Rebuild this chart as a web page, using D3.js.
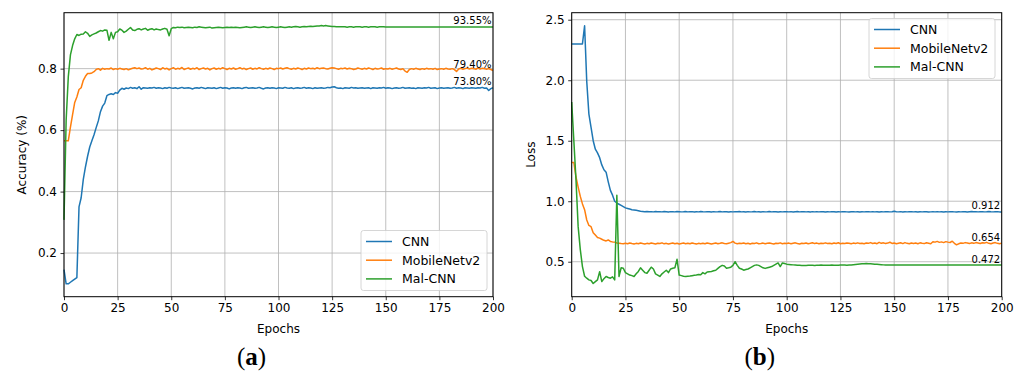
<!DOCTYPE html>
<html>
<head>
<meta charset="utf-8">
<script src="https://cdn.jsdelivr.net/npm/d3@7"></script>
<style>
  body { margin: 0; background: #fff; }
  svg text { font-family: "DejaVu Sans", sans-serif; fill: #000; }
</style>
</head>
<body>
<svg id="chart" width="1024" height="374"></svg>
<script>
// ---- data, one value per epoch 0..200 ----
var seriesNames = ["CNN", "MobileNetv2", "Mal-CNN"];
var seriesColors = ["#1f77b4", "#ff7f0e", "#2ca02c"];
var epochTicks = [0, 25, 50, 75, 100, 125, 150, 175, 200];
var accTicks = [0.2, 0.4, 0.6, 0.8];
var lossTicks = [0.5, 1.0, 1.5, 2.0, 2.5];
var accFinalLabels = ["73.80%", "79.40%", "93.55%"];
var lossFinalLabels = ["0.912", "0.654", "0.472"];

var cnnAcc = [
  0.146,0.100,0.100,0.105,0.110,0.115,0.120,0.350,0.380,0.440,
  0.480,0.515,0.545,0.565,0.585,0.608,0.630,0.660,0.678,0.688,
  0.712,0.716,0.718,0.716,0.722,0.720,0.730,0.736,0.733,0.737,
  0.735,0.739,0.736,0.738,0.735,0.741,0.733,0.738,0.737,0.736,
  0.738,0.737,0.739,0.736,0.738,0.737,0.735,0.738,0.736,0.739,
  0.737,0.736,0.738,0.735,0.737,0.739,0.736,0.737,0.738,0.736,
  0.734,0.737,0.738,0.736,0.739,0.737,0.735,0.738,0.737,0.736,
  0.738,0.735,0.737,0.739,0.736,0.738,0.737,0.734,0.737,0.738,
  0.736,0.738,0.737,0.735,0.738,0.739,0.736,0.737,0.738,0.736,
  0.737,0.739,0.736,0.734,0.737,0.738,0.736,0.738,0.737,0.735,
  0.738,0.737,0.736,0.739,0.737,0.736,0.738,0.735,0.737,0.738,
  0.736,0.737,0.739,0.736,0.738,0.737,0.735,0.738,0.736,0.737,
  0.738,0.736,0.737,0.739,0.738,0.740,0.741,0.738,0.736,0.737,
  0.735,0.738,0.737,0.736,0.739,0.737,0.738,0.736,0.737,0.738,
  0.736,0.737,0.738,0.735,0.738,0.737,0.736,0.738,0.737,0.739,
  0.736,0.738,0.737,0.735,0.737,0.738,0.736,0.737,0.739,0.736,
  0.737,0.738,0.736,0.737,0.735,0.738,0.737,0.736,0.738,0.737,
  0.739,0.736,0.737,0.738,0.735,0.737,0.738,0.736,0.737,0.738,
  0.736,0.737,0.739,0.736,0.738,0.737,0.735,0.738,0.737,0.736,
  0.738,0.737,0.736,0.738,0.737,0.739,0.736,0.737,0.729,0.735,
  0.738
];
var mobileAcc = [
  0.565,0.565,0.565,0.610,0.650,0.690,0.708,0.732,0.738,0.762,
  0.775,0.784,0.784,0.786,0.790,0.797,0.800,0.795,0.801,0.798,
  0.800,0.799,0.802,0.797,0.800,0.798,0.801,0.799,0.797,0.800,
  0.796,0.799,0.801,0.803,0.800,0.802,0.799,0.800,0.803,0.798,
  0.801,0.796,0.799,0.802,0.800,0.797,0.803,0.799,0.801,0.796,
  0.800,0.803,0.798,0.801,0.799,0.804,0.797,0.800,0.802,0.798,
  0.801,0.799,0.803,0.797,0.800,0.802,0.799,0.801,0.796,0.800,
  0.802,0.798,0.801,0.799,0.803,0.800,0.797,0.801,0.799,0.802,
  0.798,0.800,0.803,0.799,0.801,0.797,0.800,0.802,0.798,0.801,
  0.799,0.803,0.800,0.798,0.801,0.799,0.802,0.800,0.797,0.801,
  0.800,0.802,0.799,0.801,0.803,0.800,0.798,0.801,0.799,0.802,
  0.800,0.797,0.801,0.799,0.802,0.800,0.801,0.799,0.803,0.800,
  0.801,0.802,0.800,0.799,0.801,0.803,0.802,0.800,0.798,0.801,
  0.800,0.802,0.799,0.801,0.800,0.797,0.799,0.802,0.800,0.798,
  0.801,0.799,0.802,0.800,0.797,0.801,0.799,0.800,0.802,0.798,
  0.800,0.799,0.801,0.798,0.800,0.802,0.799,0.797,0.800,0.792,
  0.788,0.797,0.800,0.798,0.801,0.799,0.797,0.800,0.798,0.801,
  0.799,0.800,0.798,0.801,0.797,0.799,0.800,0.798,0.801,0.799,
  0.798,0.800,0.797,0.791,0.799,0.801,0.798,0.800,0.802,0.799,
  0.801,0.800,0.798,0.802,0.799,0.801,0.800,0.798,0.800,0.797,
  0.794
];
var malAcc = [
  0.308,0.632,0.773,0.845,0.875,0.897,0.911,0.908,0.912,0.913,
  0.920,0.915,0.905,0.910,0.913,0.916,0.920,0.924,0.922,0.926,
  0.925,0.892,0.918,0.897,0.918,0.920,0.929,0.925,0.918,0.922,
  0.928,0.934,0.926,0.924,0.928,0.930,0.926,0.929,0.931,0.925,
  0.928,0.930,0.926,0.929,0.927,0.926,0.929,0.931,0.928,0.907,
  0.930,0.934,0.933,0.935,0.934,0.935,0.933,0.934,0.935,0.934,
  0.933,0.935,0.934,0.936,0.935,0.934,0.933,0.934,0.935,0.932,
  0.933,0.934,0.935,0.934,0.933,0.934,0.935,0.934,0.935,0.934,
  0.935,0.934,0.933,0.934,0.935,0.936,0.935,0.934,0.935,0.936,
  0.935,0.934,0.935,0.936,0.935,0.934,0.935,0.936,0.935,0.934,
  0.935,0.936,0.935,0.934,0.935,0.936,0.935,0.936,0.937,0.936,
  0.935,0.936,0.937,0.936,0.937,0.938,0.937,0.938,0.939,0.939,
  0.940,0.939,0.940,0.939,0.938,0.937,0.937,0.936,0.936,0.936,
  0.936,0.936,0.935,0.936,0.936,0.935,0.936,0.936,0.936,0.935,
  0.936,0.936,0.935,0.936,0.936,0.936,0.935,0.936,0.936,0.936,
  0.9355,0.9355,0.9355,0.9355,0.9355,0.9355,0.9355,0.9355,0.9355,0.9355,
  0.9355,0.9355,0.9355,0.9355,0.9355,0.9355,0.9355,0.9355,0.9355,0.9355,
  0.9355,0.9355,0.9355,0.9355,0.9355,0.9355,0.9355,0.9355,0.9355,0.9355,
  0.9355,0.9355,0.9355,0.9355,0.9355,0.9355,0.9355,0.9355,0.9355,0.9355,
  0.9355,0.9355,0.9355,0.9355,0.9355,0.9355,0.9355,0.9355,0.9355,0.9355,
  0.9355
];

var cnnLoss = [
  2.300,2.300,2.300,2.300,2.300,2.300,2.450,1.990,1.720,1.610,
  1.500,1.430,1.400,1.360,1.300,1.260,1.240,1.160,1.090,1.050,
  1.000,0.985,0.975,0.965,0.955,0.945,0.940,0.935,0.930,0.928,
  0.925,0.922,0.918,0.916,0.914,0.915,0.913,0.914,0.912,0.915,
  0.913,0.914,0.912,0.915,0.913,0.911,0.914,0.913,0.912,0.915,
  0.914,0.912,0.913,0.915,0.912,0.913,0.914,0.911,0.913,0.912,
  0.915,0.913,0.912,0.914,0.913,0.911,0.914,0.912,0.913,0.915,
  0.912,0.914,0.913,0.911,0.913,0.912,0.914,0.913,0.915,0.912,
  0.913,0.911,0.914,0.912,0.913,0.915,0.912,0.913,0.911,0.914,
  0.912,0.913,0.915,0.912,0.914,0.913,0.911,0.913,0.912,0.914,
  0.913,0.912,0.914,0.911,0.913,0.915,0.912,0.913,0.914,0.912,
  0.913,0.911,0.914,0.912,0.913,0.912,0.914,0.913,0.911,0.913,
  0.912,0.914,0.913,0.911,0.913,0.912,0.914,0.913,0.912,0.911,
  0.913,0.914,0.912,0.913,0.911,0.913,0.912,0.914,0.913,0.912,
  0.914,0.912,0.913,0.911,0.913,0.912,0.914,0.913,0.912,0.913,
  0.917,0.913,0.912,0.914,0.911,0.913,0.912,0.913,0.914,0.912,
  0.913,0.911,0.913,0.912,0.914,0.913,0.911,0.912,0.913,0.912,
  0.914,0.912,0.913,0.911,0.913,0.912,0.914,0.913,0.912,0.911,
  0.913,0.912,0.914,0.913,0.911,0.913,0.915,0.913,0.914,0.912,
  0.913,0.914,0.912,0.913,0.915,0.913,0.912,0.914,0.913,0.912,
  0.912
];
var mobileLoss = [
  1.320,1.320,1.200,1.116,1.040,0.978,0.930,0.845,0.800,0.790,
  0.740,0.720,0.700,0.695,0.686,0.677,0.672,0.680,0.668,0.664,
  0.662,0.655,0.653,0.650,0.648,0.652,0.648,0.655,0.650,0.646,
  0.652,0.648,0.655,0.650,0.646,0.652,0.649,0.655,0.651,0.647,
  0.653,0.650,0.656,0.648,0.652,0.646,0.651,0.655,0.649,0.653,
  0.647,0.651,0.654,0.649,0.652,0.648,0.655,0.650,0.646,0.652,
  0.649,0.653,0.648,0.655,0.651,0.646,0.650,0.654,0.649,0.652,
  0.656,0.650,0.648,0.653,0.658,0.668,0.654,0.648,0.652,0.650,
  0.655,0.649,0.652,0.647,0.653,0.650,0.656,0.649,0.651,0.654,
  0.648,0.652,0.655,0.650,0.647,0.653,0.651,0.656,0.649,0.652,
  0.650,0.654,0.648,0.652,0.656,0.650,0.647,0.653,0.651,0.655,
  0.649,0.652,0.657,0.650,0.654,0.648,0.653,0.651,0.656,0.650,
  0.653,0.648,0.655,0.651,0.657,0.649,0.653,0.650,0.655,0.652,
  0.648,0.654,0.651,0.656,0.650,0.653,0.649,0.655,0.652,0.658,
  0.651,0.655,0.649,0.660,0.652,0.656,0.650,0.654,0.661,0.651,
  0.655,0.649,0.653,0.657,0.650,0.658,0.652,0.648,0.655,0.651,
  0.654,0.649,0.656,0.652,0.650,0.657,0.653,0.649,0.665,0.662,
  0.668,0.660,0.664,0.658,0.666,0.662,0.659,0.670,0.652,0.640,
  0.648,0.655,0.652,0.658,0.654,0.650,0.656,0.652,0.658,0.655,
  0.651,0.657,0.654,0.660,0.652,0.648,0.655,0.658,0.652,0.648,
  0.654
];
var malLoss = [
  1.820,1.500,1.176,0.790,0.600,0.460,0.380,0.364,0.350,0.345,
  0.320,0.335,0.350,0.418,0.336,0.360,0.378,0.370,0.364,0.375,
  0.350,1.050,0.378,0.450,0.446,0.410,0.400,0.390,0.385,0.378,
  0.400,0.420,0.450,0.430,0.410,0.405,0.430,0.455,0.440,0.400,
  0.390,0.378,0.400,0.415,0.430,0.410,0.440,0.446,0.450,0.520,
  0.390,0.385,0.380,0.378,0.380,0.382,0.385,0.388,0.390,0.395,
  0.392,0.410,0.400,0.415,0.418,0.420,0.425,0.430,0.445,0.460,
  0.470,0.465,0.446,0.450,0.455,0.470,0.500,0.470,0.446,0.440,
  0.430,0.435,0.440,0.450,0.460,0.470,0.474,0.470,0.460,0.450,
  0.445,0.450,0.455,0.460,0.470,0.480,0.490,0.460,0.490,0.485,
  0.480,0.478,0.476,0.474,0.472,0.470,0.470,0.468,0.468,0.469,
  0.470,0.471,0.470,0.469,0.470,0.471,0.472,0.471,0.470,0.470,
  0.471,0.472,0.471,0.470,0.471,0.472,0.473,0.472,0.471,0.472,
  0.473,0.475,0.477,0.479,0.481,0.483,0.484,0.485,0.484,0.483,
  0.482,0.480,0.479,0.478,0.476,0.474,0.472,0.472,0.472,0.472,
  0.472,0.472,0.472,0.472,0.472,0.472,0.472,0.472,0.472,0.472,
  0.472,0.472,0.472,0.472,0.472,0.472,0.472,0.472,0.472,0.472,
  0.472,0.472,0.472,0.472,0.472,0.472,0.472,0.472,0.472,0.472,
  0.472,0.472,0.472,0.472,0.472,0.472,0.472,0.472,0.472,0.472,
  0.472,0.472,0.472,0.472,0.472,0.472,0.472,0.472,0.472,0.472,
  0.472
];

var svg = d3.select("#chart");

function drawPanel(cfg) {
    var x = d3.scaleLinear().domain([0, 200]).range([cfg.left, cfg.right]);
    var y = d3.scaleLinear().domain(cfg.yDomain).range([cfg.bottom, cfg.top]);
    var g = svg.append("g");

    // grid
    g.append("g").selectAll("line").data(epochTicks).enter().append("line")
        .attr("x1", d => x(d)).attr("x2", d => x(d))
        .attr("y1", cfg.top).attr("y2", cfg.bottom)
        .attr("stroke", "#b0b0b0").attr("stroke-width", 0.8);
    g.append("g").selectAll("line").data(cfg.yTicks).enter().append("line")
        .attr("x1", cfg.left).attr("x2", cfg.right)
        .attr("y1", d => y(d)).attr("y2", d => y(d))
        .attr("stroke", "#b0b0b0").attr("stroke-width", 0.8);

    // lines
    var line = d3.line().x((d, i) => x(i)).y(d => y(d));
    g.append("g")
        .selectAll("path").data(cfg.series).enter().append("path")
        .attr("d", d => line(d))
        .attr("fill", "none")
        .attr("stroke", (d, i) => seriesColors[i])
        .attr("stroke-width", 1.5)
        .attr("stroke-linejoin", "round");

    // final value labels
    g.append("g").selectAll("text").data(cfg.series).enter().append("text")
        .attr("x", x(200) - 1.5)
        .attr("y", d => y(d[d.length - 1]) - 2.5)
        .attr("text-anchor", "end")
        .style("font-size", "10px")
        .text((d, i) => cfg.finalLabels[i]);

    // frame
    g.append("rect")
        .attr("x", cfg.left).attr("y", cfg.top)
        .attr("width", cfg.right - cfg.left).attr("height", cfg.bottom - cfg.top)
        .attr("fill", "none").attr("stroke", "#000").attr("stroke-width", 1);

    // axes
    var xAxis = g.append("g")
        .attr("transform", "translate(0," + cfg.bottom + ")")
        .call(d3.axisBottom(x).tickValues(epochTicks).tickSize(3.5).tickPadding(3.5).tickFormat(d3.format("d")));
    var yAxis = g.append("g")
        .attr("transform", "translate(" + cfg.left + ",0)")
        .call(d3.axisLeft(y).tickValues(cfg.yTicks).tickSize(3.5).tickPadding(3.5).tickFormat(d3.format(".1f")));
    [xAxis, yAxis].forEach(function (a) {
        a.select(".domain").remove();
        a.selectAll(".tick line").attr("stroke", "#000").attr("stroke-width", 0.8);
        a.selectAll(".tick text").style("font-size", "12px").style("font-family", "DejaVu Sans").attr("fill", "#000");
    });

    // axis labels
    g.append("text")
        .attr("x", (cfg.left + cfg.right) / 2).attr("y", cfg.bottom + 36)
        .attr("text-anchor", "middle").style("font-size", "12px")
        .text("Epochs");
    g.append("text")
        .attr("transform", "translate(" + cfg.yLabelX + "," + (cfg.top + cfg.bottom) / 2 + ") rotate(-90)")
        .attr("text-anchor", "middle").style("font-size", "12px")
        .text(cfg.yLabel);

    // legend
    var lg = g.append("g").attr("transform", "translate(" + cfg.legendX + "," + cfg.legendY + ")");
    lg.append("rect")
        .attr("width", 126).attr("height", 60).attr("rx", 2.5)
        .attr("fill", "#fff").attr("fill-opacity", 0.8)
        .attr("stroke", "#cccccc").attr("stroke-width", 0.8);
    seriesNames.forEach(function (name, i) {
        var yy = 11 + i * 18.7;
        lg.append("line")
            .attr("x1", 5).attr("x2", 31).attr("y1", yy).attr("y2", yy)
            .attr("stroke", seriesColors[i]).attr("stroke-width", 1.5);
        lg.append("text")
            .attr("x", 41).attr("y", yy + 4.5)
            .style("font-size", "12.5px")
            .text(name);
    });

    // caption
    var cap = svg.append("text")
        .attr("x", (cfg.left + cfg.right) / 2 - 27).attr("y", 365)
        .attr("text-anchor", "middle")
        .style("font-family", "Liberation Serif, serif").style("font-size", "25px");
    cap.append("tspan").text("(");
    cap.append("tspan").style("font-weight", "bold").text(cfg.caption);
    cap.append("tspan").text(")");
}

drawPanel({
    left: 64, right: 493, top: 12.7, bottom: 296.7,
    yDomain: [0.058, 0.982], yTicks: accTicks,
    series: [cnnAcc, mobileAcc, malAcc], finalLabels: accFinalLabels,
    yLabel: "Accuracy (%)", yLabelX: 26,
    legendX: 361, legendY: 230.5, caption: "a"
});
drawPanel({
    left: 571.7, right: 1001.7, top: 12.7, bottom: 296.7,
    yDomain: [0.211, 2.558], yTicks: lossTicks,
    series: [cnnLoss, mobileLoss, malLoss], finalLabels: lossFinalLabels,
    yLabel: "Loss", yLabelX: 535,
    legendX: 869, legendY: 18.5, caption: "b"
});
</script>
</body>
</html>
